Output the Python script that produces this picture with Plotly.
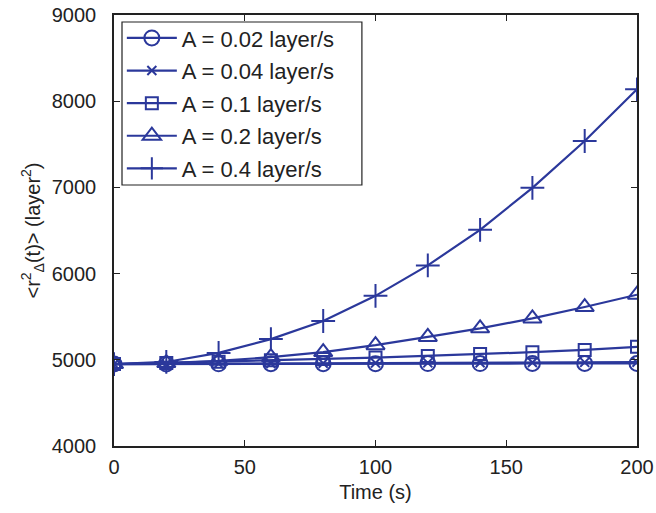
import plotly.graph_objects as go

time = [0, 20, 40, 60, 80, 100, 120, 140, 160, 180, 200]
a002 = [4950, 4952, 4953, 4954, 4955, 4955, 4956, 4956, 4957, 4957, 4958]
a004 = [4950, 4953, 4956, 4958, 4960, 4962, 4964, 4966, 4968, 4970, 4972]
a01 = [4950, 4963, 4978, 4994, 5010, 5026, 5044, 5066, 5088, 5115, 5150]
a02 = [4950, 4962, 4988, 5030, 5090, 5170, 5265, 5365, 5480, 5612, 5755]
a04 = [4950, 4975, 5080, 5240, 5450, 5742, 6095, 6508, 6995, 7538, 8138]
labels = ["A = 0.02 layer/s", "A = 0.04 layer/s", "A = 0.1 layer/s",
          "A = 0.2 layer/s", "A = 0.4 layer/s"]

color = "#2b389b"
series = [a002, a004, a01, a02, a04]
symbols = ["circle-open", "x-thin-open", "square-open", "triangle-up-open", "cross-thin-open"]
sizes = [15, 9, 12, 16, 17]

fig = go.Figure()
for i, (ys, lab, sym, sz) in enumerate(zip(series, labels, symbols, sizes)):
    fig.add_trace(go.Scatter(
        x=time, y=ys, name=lab, mode="lines+markers", legendgroup=f"g{i}",
        line=dict(color=color, width=2.2),
        marker=dict(symbol=sym, size=sz, color=color, line=dict(color=color, width=2)),
    ))

font = "Liberation Sans, Arial"
axis_common = dict(
    showline=True, linecolor="#222222", linewidth=1.5, mirror="ticks",
    ticks="inside", ticklen=6, tickcolor="#222222", tickwidth=1.2,
    showgrid=False, zeroline=False, automargin=False,
    tickfont=dict(family=font, size=20, color="#222222"),
)
fig.update_xaxes(range=[0, 200], tickvals=[0, 50, 100, 150, 200],
                 ticklabelstandoff=2,
                 title=dict(text="Time (s)", standoff=8,
                            font=dict(family=font, size=20, color="#222222")),
                 **axis_common)
fig.update_yaxes(range=[4000, 9000], tickvals=[4000, 5000, 6000, 7000, 8000, 9000],
                 ticklabelstandoff=12,
                 title=dict(text="&lt;r<sup>2</sup><sub>Δ</sub>(t)&gt; (layer<sup>2</sup>)", standoff=6,
                            font=dict(family=font, size=20, color="#222222")),
                 **axis_common)

# legend box (background + frame) drawn as a shape so its padding matches
fig.add_shape(type="rect", xref="paper", yref="paper",
              x0=0.0153, x1=0.474, y0=0.6056, y1=0.9838,
              fillcolor="white", line=dict(color="#222222", width=1.2), layer="above")

fig.update_layout(
    width=656, height=513,
    margin=dict(l=114, r=19, t=15, b=67),
    plot_bgcolor="white", paper_bgcolor="white",
    legend=dict(x=0.015, y=0.995, xanchor="left", yanchor="top",
                bgcolor="rgba(0,0,0,0)", borderwidth=0,
                font=dict(family=font, size=22, color="#222222"),
                itemwidth=50, tracegroupgap=1),
    showlegend=True,
)

fig.write_html("out.html")
